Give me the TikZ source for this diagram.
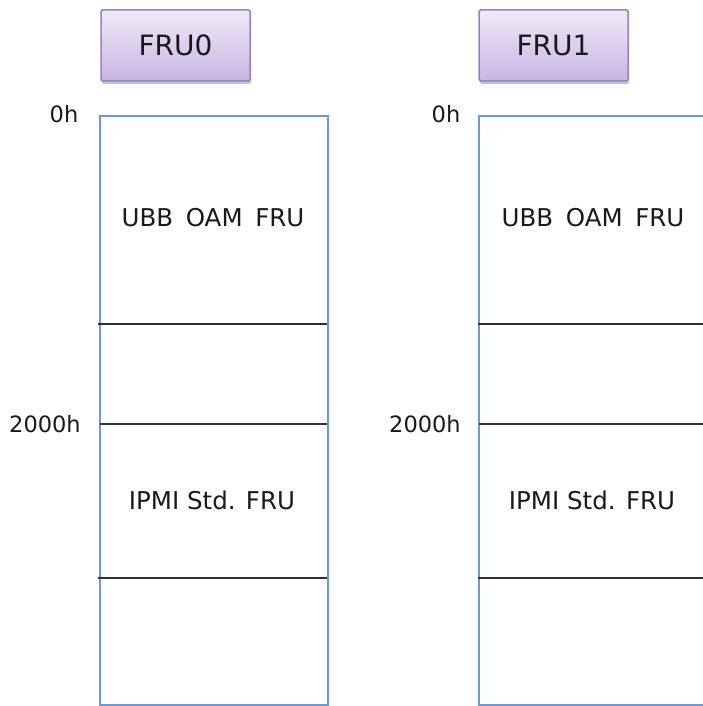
\documentclass[tikz,border=0pt]{standalone}
\usepackage{fontspec}
\setmainfont{DejaVu Sans}
\usetikzlibrary{shadows}
\definecolor{memblue}{RGB}{108,153,207}
\definecolor{sepgray}{RGB}{50,50,50}
\definecolor{frutop}{RGB}{240,234,249}
\definecolor{frubot}{RGB}{201,180,228}
\definecolor{fruedge}{RGB}{155,130,192}
\definecolor{txt}{RGB}{25,25,25}
\tikzset{
  frubox/.style={draw=fruedge, line width=1.5pt, top color=frutop, bottom color=frubot,
    rounded corners=1.5pt, minimum width=149pt, minimum height=71pt, inner sep=0pt,
    font=\fontsize{28}{32}\selectfont, text=txt,
    drop shadow={shadow xshift=1pt, shadow yshift=-3pt, opacity=0.4, fill=black!60}},
  membox/.style={draw=memblue, line width=2pt},
  sep/.style={draw=sepgray, line width=2.6pt},
  region/.style={font=\fontsize{24.5}{28}\selectfont, text=txt, inner sep=0pt},
  addr/.style={font=\fontsize{22.5}{25}\selectfont, text=txt, inner sep=0pt},
}
\begin{document}
\begin{tikzpicture}[x=1pt,y=-1pt]
\useasboundingbox (0,0) rectangle (703,706);
% FRU0 column
\node[frubox] (fru0) at (175.5,45.5) {FRU0};
\node[membox, minimum width=228pt, minimum height=589pt, inner sep=0pt] (mem0) at (214,410.5) {};
\coordinate (l0a) at (98,324);  \coordinate (r0a) at (327,324);
\coordinate (l0b) at (100,424); \coordinate (r0b) at (327,424);
\coordinate (l0c) at (98,578);  \coordinate (r0c) at (327,578);
\draw[sep] (l0a) -- (r0a);
\draw[sep] (l0b) -- (r0b);
\draw[sep] (l0c) -- (r0c);
\node[region] (ubb0) at (213,218) {UBB\hspace{0.2em} OAM\hspace{0.2em} FRU};
\node[region] (ipmi0) at (212,500) {IPMI Std. FRU};
\node[addr] (z0) at (64,114) {0h};
\node[addr] (k0) at (45,424) {2000h};
% FRU1 column
\node[frubox] (fru1) at (553.5,45.5) {FRU1};
\coordinate (m1tl) at (479,116); \coordinate (m1br) at (715,705);
\draw[membox] (m1tl) rectangle (m1br);
\coordinate (l1a) at (478,324);  \coordinate (r1a) at (715,324);
\coordinate (l1b) at (479,424); \coordinate (r1b) at (715,424);
\coordinate (l1c) at (478,578);  \coordinate (r1c) at (715,578);
\draw[sep] (l1a) -- (r1a);
\draw[sep] (l1b) -- (r1b);
\draw[sep] (l1c) -- (r1c);
\node[region] (ubb1) at (593,218) {UBB\hspace{0.2em} OAM\hspace{0.2em} FRU};
\node[region] (ipmi1) at (592,500) {IPMI Std. FRU};
\node[addr] (z1) at (446,114) {0h};
\node[addr] (k1) at (425,424) {2000h};
\end{tikzpicture}
\end{document}
